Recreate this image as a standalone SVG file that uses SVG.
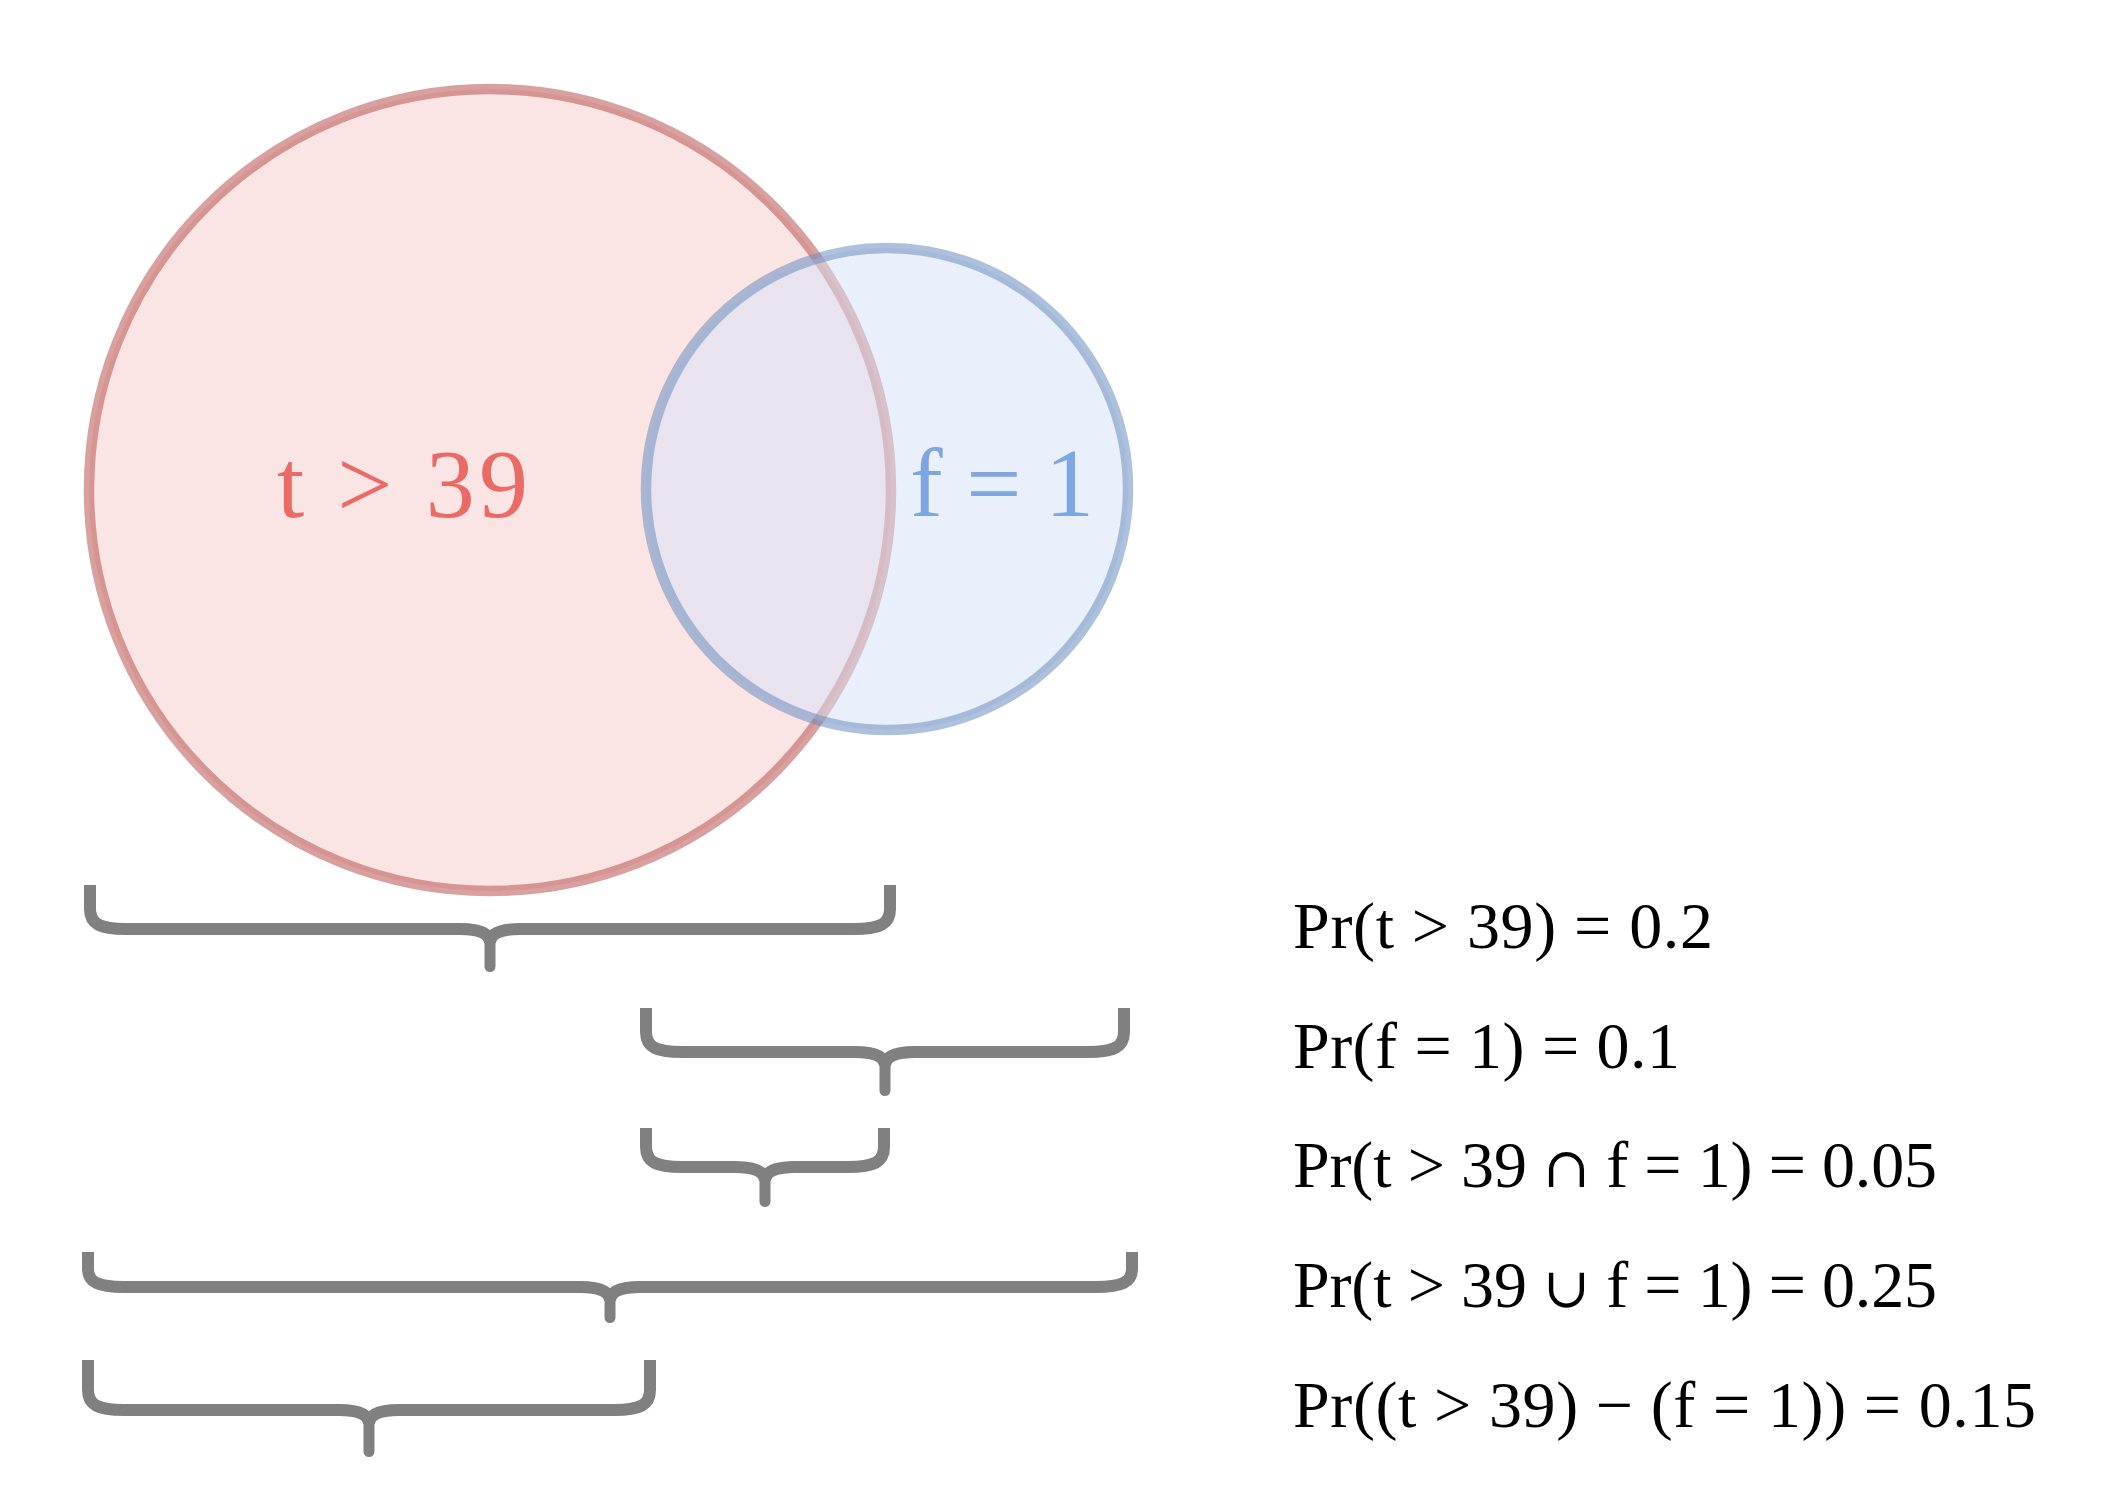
<svg xmlns="http://www.w3.org/2000/svg" width="2108" height="1488" viewBox="0 0 2108 1488">
<style>
.brace{fill:none;stroke:#808080;stroke-width:12;stroke-linecap:butt;stroke-linejoin:round}
.stem{fill:none;stroke:#808080;stroke-width:11;stroke-linecap:round}
.math{font-family:"Liberation Serif","Times New Roman",serif;fill:#000;font-size:66px}
.op{font-family:"DejaVu Serif",serif;font-size:56px}
.lbl{font-family:"Liberation Serif","Times New Roman",serif;font-size:98px}
</style>
<rect width="2108" height="1488" fill="#ffffff"/>
<g id="set-t">
<circle cx="490" cy="490" r="401" fill="#F5C9C9" fill-opacity="0.5" stroke="#B85450" stroke-opacity="0.55" stroke-width="10.5"/>
<text class="lbl" x="277" y="517" fill="#EA6B66" textLength="251" lengthAdjust="spacing">t &gt; 39</text>
</g>
<g id="set-f">
<circle cx="887" cy="489" r="241" fill="#D5E1F7" fill-opacity="0.5" stroke="#6C8EBF" stroke-opacity="0.55" stroke-width="10.5"/>
<text class="lbl" x="910" y="516" fill="#7EA6E0" textLength="184" lengthAdjust="spacing">f = 1</text>
</g>
<g id="braces">
<g id="brace-t">
<path class="brace" d="M90,885 V909 C90,924 100,929 126,929 H460 C478,929 490,933 490,943"/>
<path class="brace" d="M890,885 V909 C890,924 880,929 854,929 H520 C502,929 490,933 490,943"/>
<path class="stem" d="M490,939 V966.5"/>
</g>
<g id="brace-f">
<path class="brace" d="M646,1008 V1032 C646,1047 656,1052 682,1052 H855 C873,1052 885,1056 885,1066"/>
<path class="brace" d="M1124,1008 V1032 C1124,1047 1114,1052 1088,1052 H915 C897,1052 885,1056 885,1066"/>
<path class="stem" d="M885,1062 V1090.5"/>
</g>
<g id="brace-and">
<path class="brace" d="M646,1128 V1147 C646,1162 656,1167 682,1167 H735 C753,1167 765,1171 765,1181"/>
<path class="brace" d="M884,1128 V1147 C884,1162 874,1167 848,1167 H795 C777,1167 765,1171 765,1181"/>
<path class="stem" d="M765,1177 V1201.5"/>
</g>
<g id="brace-or">
<path class="brace" d="M88,1252 V1269 C88,1282 98,1287 124,1287 H580 C598,1287 610,1291 610,1301"/>
<path class="brace" d="M1132,1252 V1269 C1132,1282 1122,1287 1096,1287 H640 C622,1287 610,1291 610,1301"/>
<path class="stem" d="M610,1297 V1317.5"/>
</g>
<g id="brace-minus">
<path class="brace" d="M88,1360 V1390 C88,1405 98,1410 124,1410 H339 C357,1410 369,1414 369,1424"/>
<path class="brace" d="M650,1360 V1390 C650,1405 640,1410 614,1410 H399 C381,1410 369,1414 369,1424"/>
<path class="stem" d="M369,1420 V1451.5"/>
</g>
</g>
<g id="equations">
<text id="eq-t" class="math" x="1293" y="948" textLength="420" lengthAdjust="spacing">Pr(t &gt; 39) = 0.2</text>
<text id="eq-f" class="math" x="1293" y="1068" textLength="387" lengthAdjust="spacing">Pr(f = 1) = 0.1</text>
<text id="eq-and" class="math" x="1293" y="1187" textLength="644" lengthAdjust="spacing">Pr(t &gt; 39 <tspan class="op">∩</tspan> f = 1) = 0.05</text>
<text id="eq-or" class="math" x="1293" y="1307" textLength="644" lengthAdjust="spacing">Pr(t &gt; 39 <tspan class="op">∪</tspan> f = 1) = 0.25</text>
<text id="eq-minus" class="math" x="1293" y="1427" textLength="743" lengthAdjust="spacing">Pr((t &gt; 39) − (f = 1)) = 0.15</text>
</g>
</svg>
